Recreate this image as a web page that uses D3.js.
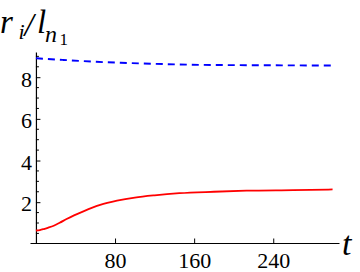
<!DOCTYPE html>
<html>
<head>
<meta charset="utf-8">
<script src="https://cdn.jsdelivr.net/npm/d3@7"></script>
<style>
  body { margin: 0; background: #fff; }
  svg { display: block; }
</style>
</head>
<body>
<div id="chart"></div>
<script>
// values
let redT = [0, 4, 8, 12, 18, 24, 31, 48, 65, 82, 100, 120, 145, 180, 213, 260, 300];
let redV = [0.64, 0.66, 0.71, 0.77, 0.87, 1.01, 1.19, 1.56, 1.87, 2.07, 2.22, 2.33, 2.43, 2.50, 2.55, 2.58, 2.61];
let blueT = [0, 27, 61, 95, 129, 156, 200, 250, 300];
let blueV = [8.91, 8.83, 8.74, 8.68, 8.63, 8.60, 8.58, 8.57, 8.56];
let xTicks = [80, 160, 240];
let yTicks = [2, 4, 6, 8];
let yMinor = d3.range(0.5, 9.01, 0.5).filter(v => yTicks.indexOf(v) < 0);

let serif = "'Liberation Serif', 'Times New Roman', serif";

function makeChart() {
    let svgWidth = 360;
    let svgHeight = 272;

    let svg = d3.select("#chart")
        .append("svg")
        .attr("width", svgWidth)
        .attr("height", svgHeight);

    let xScale = d3.scaleLinear()
        .domain([-6, 306.5])
        .range([30, 339]);

    let yScale = d3.scaleLinear()
        .domain([0.04, 9.21])
        .range([243, 52]);

    // x axis, ticks pointing up
    let xAxis = svg.append("g")
        .attr("transform", `translate(0, ${yScale(0.04)})`)
        .call(d3.axisBottom(xScale)
            .tickValues(xTicks)
            .tickSizeInner(-4.5)
            .tickSizeOuter(0)
            .tickPadding(9)
            .tickFormat(d3.format("d")));

    // y axis, ticks pointing right
    let yAxis = svg.append("g")
        .attr("transform", `translate(${xScale(0)}, 0)`)
        .call(d3.axisLeft(yScale)
            .tickValues(yTicks)
            .tickSizeInner(-4.5)
            .tickSizeOuter(0)
            .tickPadding(4)
            .tickFormat(d3.format("d")));

    yAxis.selectAll("text").attr("dy", "0.4em");

    yAxis.selectAll(".minor")
        .data(yMinor)
        .enter()
        .append("line")
        .attr("class", "minor")
        .attr("x1", 0)
        .attr("x2", 3)
        .attr("y1", d => yScale(d))
        .attr("y2", d => yScale(d))
        .attr("stroke", "#000");

    [xAxis, yAxis].forEach(function(g) {
        g.attr("font-family", null);
        g.select(".domain").attr("stroke", "#000").attr("stroke-width", 1.2);
        g.selectAll(".tick line").attr("stroke", "#000");
        g.selectAll("text")
            .style("font-family", serif)
            .style("font-size", "22px")
            .attr("fill", "#000");
    });

    let line = d3.line()
        .x(d => xScale(d[0]))
        .y(d => yScale(d[1]))
        .curve(d3.curveMonotoneX);

    svg.append("path")
        .datum(blueT.map((t, i) => [t, blueV[i]]))
        .attr("d", line)
        .attr("fill", "none")
        .attr("stroke", "#0000ff")
        .attr("stroke-width", 1.9)
        .attr("stroke-dasharray", "7,5");

    svg.append("path")
        .datum(redT.map((t, i) => [t, redV[i]]))
        .attr("d", line)
        .attr("fill", "none")
        .attr("stroke", "#ff0000")
        .attr("stroke-width", 1.8);

    // axis label t
    svg.append("text")
        .attr("x", 342)
        .attr("y", 255)
        .style("font-family", serif)
        .style("font-style", "italic")
        .style("font-size", "34px")
        .text("t");

    // y label r_i / l_{n_1}
    let parts = [
        {s: "r", x: 0, y: 33, size: 33, it: true},
        {s: "i", x: 18.5, y: 39, size: 22, it: true},
        {s: "/", x: 24.5, y: 36, size: 33, it: true},
        {s: "l", x: 37, y: 33, size: 33, it: true},
        {s: "n", x: 45, y: 41.5, size: 24, it: true},
        {s: "1", x: 59.5, y: 45, size: 17, it: false}
    ];
    svg.selectAll(".ylab")
        .data(parts)
        .enter()
        .append("text")
        .attr("class", "ylab")
        .attr("x", d => d.x)
        .attr("y", d => d.y)
        .style("font-family", serif)
        .style("font-style", d => d.it ? "italic" : "normal")
        .style("font-size", d => d.size + "px")
        .text(d => d.s);
}

makeChart();
</script>
</body>
</html>
